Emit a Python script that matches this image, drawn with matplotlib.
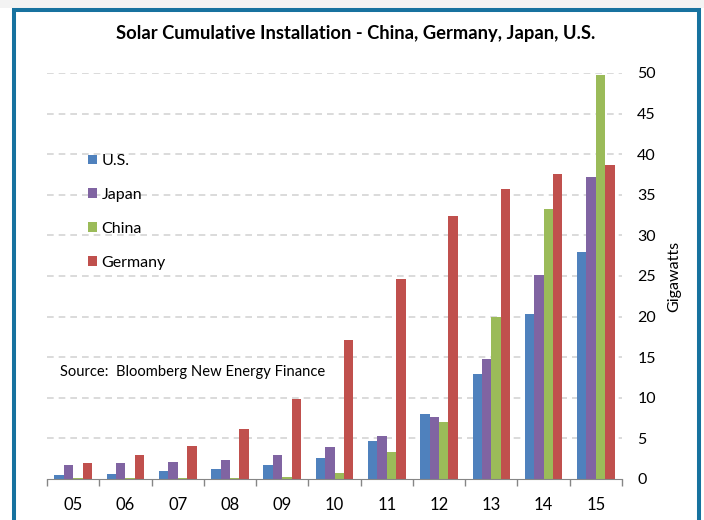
import matplotlib
matplotlib.use("Agg")
import matplotlib.pyplot as plt
from matplotlib.patches import Rectangle
import numpy as np

years = ["05", "06", "07", "08", "09", "10", "11", "12", "13", "14", "15"]
us = [0.5, 0.65, 0.95, 1.2, 1.7, 2.6, 4.7, 7.95, 12.9, 20.3, 27.9]
japan = [1.7, 2.0, 2.1, 2.4, 2.9, 3.9, 5.25, 7.6, 14.8, 25.1, 37.2]
china = [0.07, 0.08, 0.1, 0.1, 0.3, 0.8, 3.35, 7.05, 20.0, 33.2, 49.7]
germany = [2.0, 2.9, 4.1, 6.2, 9.8, 17.1, 24.6, 32.4, 35.7, 37.6, 38.7]

series = [
    ("U.S.", us, "#4F81BD"),
    ("Japan", japan, "#8064A2"),
    ("China", china, "#9BBB59"),
    ("Germany", germany, "#C0504D"),
]

plt.rcParams["font.family"] = ["Lato", "DejaVu Sans"]

W, H = 704, 520
fig = plt.figure(figsize=(W / 100, H / 100), dpi=100)

# light band above the frame
fig.patches.append(Rectangle((0, 1 - 8 / H), 1, 8 / H, transform=fig.transFigure,
                             facecolor="#F3F3F3", edgecolor="none", zorder=0))
# blue frame
fig.patches.append(Rectangle((14 / W, -0.1), (699 - 14) / W, 1.1 - 10 / H,
                             transform=fig.transFigure, facecolor="none",
                             edgecolor="#17729F", linewidth=2.9, zorder=5))

ax = fig.add_axes([47 / W, 1 - 479 / H, (622 - 47) / W, (479 - 73) / H])

x = np.arange(len(years))
bw = 0.18
for k, (name, vals, color) in enumerate(series):
    ax.bar(x + (k - 1.5) * bw, vals, width=bw, color=color, label=name,
           zorder=3, linewidth=0)

ax.set_xlim(-0.5, len(years) - 0.5)
ax.set_ylim(0, 50)
ax.set_yticks(np.arange(0, 51, 5))
ax.yaxis.tick_right()
ax.yaxis.set_label_position("right")
ax.tick_params(axis="y", length=0, pad=11, labelsize=11.5)
ax.set_ylabel("Gigawatts", fontsize=11.5, labelpad=8)

ax.set_xticks(x)
ax.set_xticklabels(years)
ax.set_xticks(np.arange(-0.5, len(years), 1), minor=True)
ax.tick_params(axis="x", which="major", length=0, pad=13, labelsize=12)
ax.tick_params(axis="x", which="minor", length=5, color="#868686", width=1)

for v in range(5, 51, 5):
    ax.axhline(v, color="#D4D4D4", linewidth=1.2, linestyle=(0, (4, 3)), zorder=1)

for s in ["top", "left", "right"]:
    ax.spines[s].set_visible(False)
ax.spines["bottom"].set_color("#868686")
ax.spines["bottom"].set_zorder(4)

leg = ax.legend(loc="upper left", bbox_to_anchor=(80 / W, 1 - 146 / H),
                bbox_transform=fig.transFigure, frameon=False, fontsize=11.5,
                handlelength=0.55, handleheight=0.55, handletextpad=0.3,
                labelspacing=1.25, borderpad=0)

fig.text(60 / W, 1 - 372 / H, "Source:  Bloomberg New Energy Finance",
         fontsize=10.6, va="center", ha="left")

fig.text(356 / W, 1 - 34 / H, "Solar Cumulative Installation - China, Germany, Japan, U.S.",
         fontsize=13.2, fontweight="bold", ha="center", va="center")

fig.savefig("out.png", dpi=100)
